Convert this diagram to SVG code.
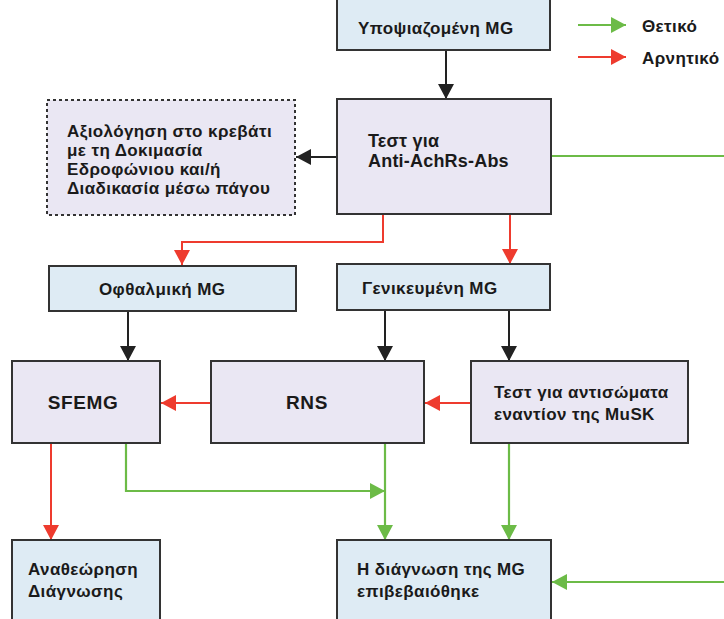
<svg xmlns="http://www.w3.org/2000/svg" width="724" height="619" viewBox="0 0 724 619">
<defs>
<style>
.t{font-family:"Liberation Sans",Arial,sans-serif;font-weight:bold;font-size:17px;letter-spacing:0.4px;fill:#1a1a1a}
.big{font-size:19px;letter-spacing:0.6px}
.mid{font-size:18px;letter-spacing:0.2px}
.blue{fill:#deebf4;stroke:#333;stroke-width:2}
.lav{fill:#eae7f3;stroke:#333;stroke-width:2}
.dash{fill:#eae7f3;stroke:#333;stroke-width:2;stroke-dasharray:3 3}
.k{fill:none;stroke:#222;stroke-width:2}
.r{fill:none;stroke:#ee3b2e;stroke-width:2}
.g{fill:none;stroke:#6cbb47;stroke-width:2.2}
</style>
<marker id="ak" viewBox="0 0 16 16" refX="15" refY="8" markerWidth="16" markerHeight="16" markerUnits="userSpaceOnUse" orient="auto"><path d="M0,0 L15,8 L0,16 z" fill="#222"/></marker>
<marker id="ar" viewBox="0 0 16 16" refX="15" refY="8" markerWidth="16" markerHeight="16" markerUnits="userSpaceOnUse" orient="auto"><path d="M0,0 L15,8 L0,16 z" fill="#ee3b2e"/></marker>
<marker id="ag" viewBox="0 0 16 16" refX="15" refY="8" markerWidth="16" markerHeight="16" markerUnits="userSpaceOnUse" orient="auto"><path d="M0,0 L15,8 L0,16 z" fill="#6cbb47"/></marker>
</defs>
<rect width="724" height="619" fill="#fff"/>

<g id="connectors">
<line class="k" x1="446" y1="50" x2="446" y2="99" marker-end="url(#ak)"/>
<line class="k" x1="337" y1="157" x2="296" y2="157" marker-end="url(#ak)"/>
<line class="g" x1="551" y1="156" x2="724" y2="156"/>
<polyline class="r" points="383,214 383,242 182,242 182,265" marker-end="url(#ar)"/>
<line class="r" x1="510" y1="214" x2="510" y2="264" marker-end="url(#ar)"/>
<line class="k" x1="128" y1="311" x2="128" y2="361" marker-end="url(#ak)"/>
<line class="k" x1="385" y1="310" x2="385" y2="361" marker-end="url(#ak)"/>
<line class="k" x1="509" y1="310" x2="509" y2="361" marker-end="url(#ak)"/>
<line class="r" x1="211" y1="403" x2="161" y2="403" marker-end="url(#ar)"/>
<line class="r" x1="471" y1="403" x2="425" y2="403" marker-end="url(#ar)"/>
<line class="r" x1="51" y1="443" x2="51" y2="540" marker-end="url(#ar)"/>
<polyline class="g" points="126,443 126,491 385,491" marker-end="url(#ag)"/>
<line class="g" x1="385" y1="443" x2="385" y2="540" marker-end="url(#ag)"/>
<line class="g" x1="509" y1="443" x2="509" y2="540" marker-end="url(#ag)"/>
<line class="g" x1="724" y1="582" x2="552" y2="582" marker-end="url(#ag)"/>
<line class="g" x1="578" y1="25" x2="626" y2="25" marker-end="url(#ag)"/>
<line class="r" x1="578" y1="57" x2="626" y2="57" marker-end="url(#ar)"/>
</g>

<g id="legend">
<text class="t" x="642" y="32">Θετικό</text>
<text class="t" x="642" y="64">Αρνητικό</text>
</g>

<g id="suspected">
<rect class="blue" x="337" y="-10" width="213" height="60"/>
<text class="t" x="358" y="34">Υποψιαζομένη MG</text>
</g>

<g id="test-achr">
<rect class="lav" x="337" y="99" width="214" height="115"/>
<text class="t mid" x="368" y="147">Τεστ για</text>
<text class="t mid" x="368" y="167">Anti-AchRs-Abs</text>
</g>

<g id="bedside">
<rect class="dash" x="47" y="100" width="248" height="115"/>
<text class="t" x="67" y="137">Αξιολόγηση στο κρεβάτι</text>
<text class="t" x="67" y="156">με τη Δοκιμασία</text>
<text class="t" x="67" y="175">Εδροφώνιου και/ή</text>
<text class="t" x="67" y="194">Διαδικασία μέσω πάγου</text>
</g>

<g id="ocular">
<rect class="blue" x="49" y="266" width="247" height="45"/>
<text class="t" x="99" y="295">Οφθαλμική MG</text>
</g>

<g id="generalized">
<rect class="blue" x="337" y="264" width="213" height="46"/>
<text class="t" x="362" y="294">Γενικευμένη MG</text>
</g>

<g id="sfemg">
<rect class="lav" x="12" y="361" width="148" height="82"/>
<text class="t big" x="83" y="409" text-anchor="middle">SFEMG</text>
</g>

<g id="rns">
<rect class="lav" x="211" y="361" width="213" height="82"/>
<text class="t big" x="307" y="409" text-anchor="middle">RNS</text>
</g>

<g id="musk">
<rect class="lav" x="471" y="361" width="217" height="82"/>
<text class="t" x="494" y="398">Τεστ για αντισώματα</text>
<text class="t" x="494" y="420">εναντίον της MuSK</text>
</g>

<g id="revise">
<rect class="blue" x="12" y="540" width="148" height="90"/>
<text class="t" x="28" y="575">Αναθεώρηση</text>
<text class="t" x="28" y="597">Διάγνωσης</text>
</g>

<g id="confirmed">
<rect class="blue" x="337" y="540" width="214" height="90"/>
<text class="t" x="357" y="575">Η διάγνωση της MG</text>
<text class="t" x="357" y="597">επιβεβαιόθηκε</text>
</g>
</svg>
